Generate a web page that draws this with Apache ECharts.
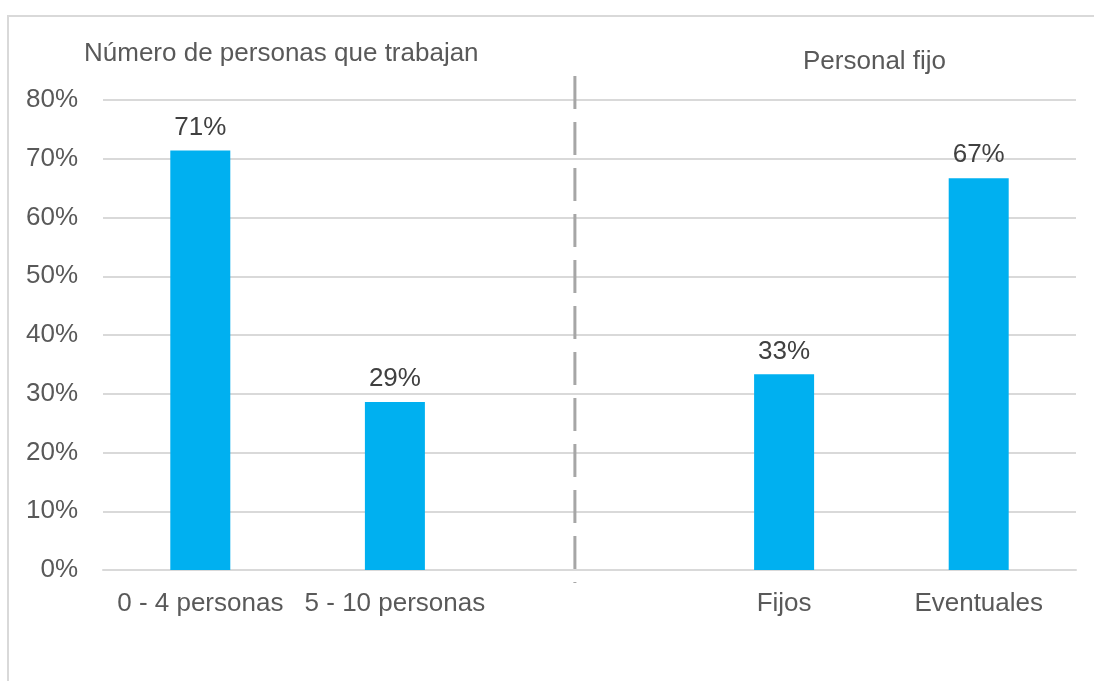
<!DOCTYPE html>
<html>
<head>
<meta charset="utf-8">
<script src="https://cdn.jsdelivr.net/npm/echarts@6/dist/echarts.min.js"></script>
<style>
  html, body { margin: 0; padding: 0; background: #fff; }
  #chart { width: 1094px; height: 681px; }
</style>
</head>
<body>
<div id="chart"></div>
<script>
const categories = ["0 - 4 personas", "5 - 10 personas", "", "Fijos", "Eventuales"];
const shares = [71.4, 28.6, null, 33.3, 66.7];
const groupTitles = ["Número de personas que trabajan", "Personal fijo"];
// separator between the two groups (x on a 0..5 scale, y in %), drawn top to bottom
const dividerX = [2.425, 2.425];
const dividerY = [84.1, -2.2];

const font = "'Liberation Sans', Arial, sans-serif";
const chart = echarts.init(document.getElementById("chart"));

chart.setOption({
  animation: false,
  textStyle: { fontFamily: font },
  graphic: [
    {
      type: "rect",
      shape: { x: 8, y: 16, width: 1200, height: 700 },
      style: { fill: "none", stroke: "#d9d9d9", lineWidth: 2 },
      silent: true
    }
  ],
  title: [
    {
      text: groupTitles[0],
      left: 84,
      top: 41,
      padding: 0,
      textStyle: { fontSize: 26, fontWeight: "normal", color: "#595959", fontFamily: font }
    },
    {
      text: groupTitles[1],
      left: 803,
      top: 49,
      padding: 0,
      textStyle: { fontSize: 26, fontWeight: "normal", color: "#595959", fontFamily: font }
    }
  ],
  grid: { left: 103, right: 18, top: 100, bottom: 111, containLabel: false },
  xAxis: [
    {
      type: "category",
      data: categories,
      axisTick: { show: false },
      axisLine: { lineStyle: { color: "#d9d9d9", width: 2 } },
      axisLabel: { interval: 0, fontSize: 26, color: "#595959", margin: 21, fontFamily: font }
    },
    {
      type: "value",
      min: 0,
      max: 5,
      show: false
    }
  ],
  yAxis: {
    type: "value",
    min: 0,
    max: 80,
    interval: 10,
    axisLine: { show: false },
    axisTick: { show: false },
    splitLine: { lineStyle: { color: "#d9d9d9", width: 2 } },
    axisLabel: { formatter: "{value}%", fontSize: 26, color: "#595959", margin: 25, fontFamily: font }
  },
  series: [
    {
      type: "bar",
      data: shares,
      barWidth: 60,
      itemStyle: { color: "#00b0f0" },
      label: {
        show: true,
        position: "top",
        distance: 10,
        fontSize: 26,
        color: "#404040",
        fontFamily: font,
        formatter: function (p) {
          return Math.round(p.value) + "%";
        }
      }
    },
    {
      type: "line",
      xAxisIndex: 1,
      data: dividerX.map(function (x, i) { return [x, dividerY[i]]; }),
      symbol: "none",
      clip: false,
      silent: true,
      lineStyle: { color: "#a6a6a6", width: 3, type: [33, 13] }
    }
  ]
});
</script>
</body>
</html>
